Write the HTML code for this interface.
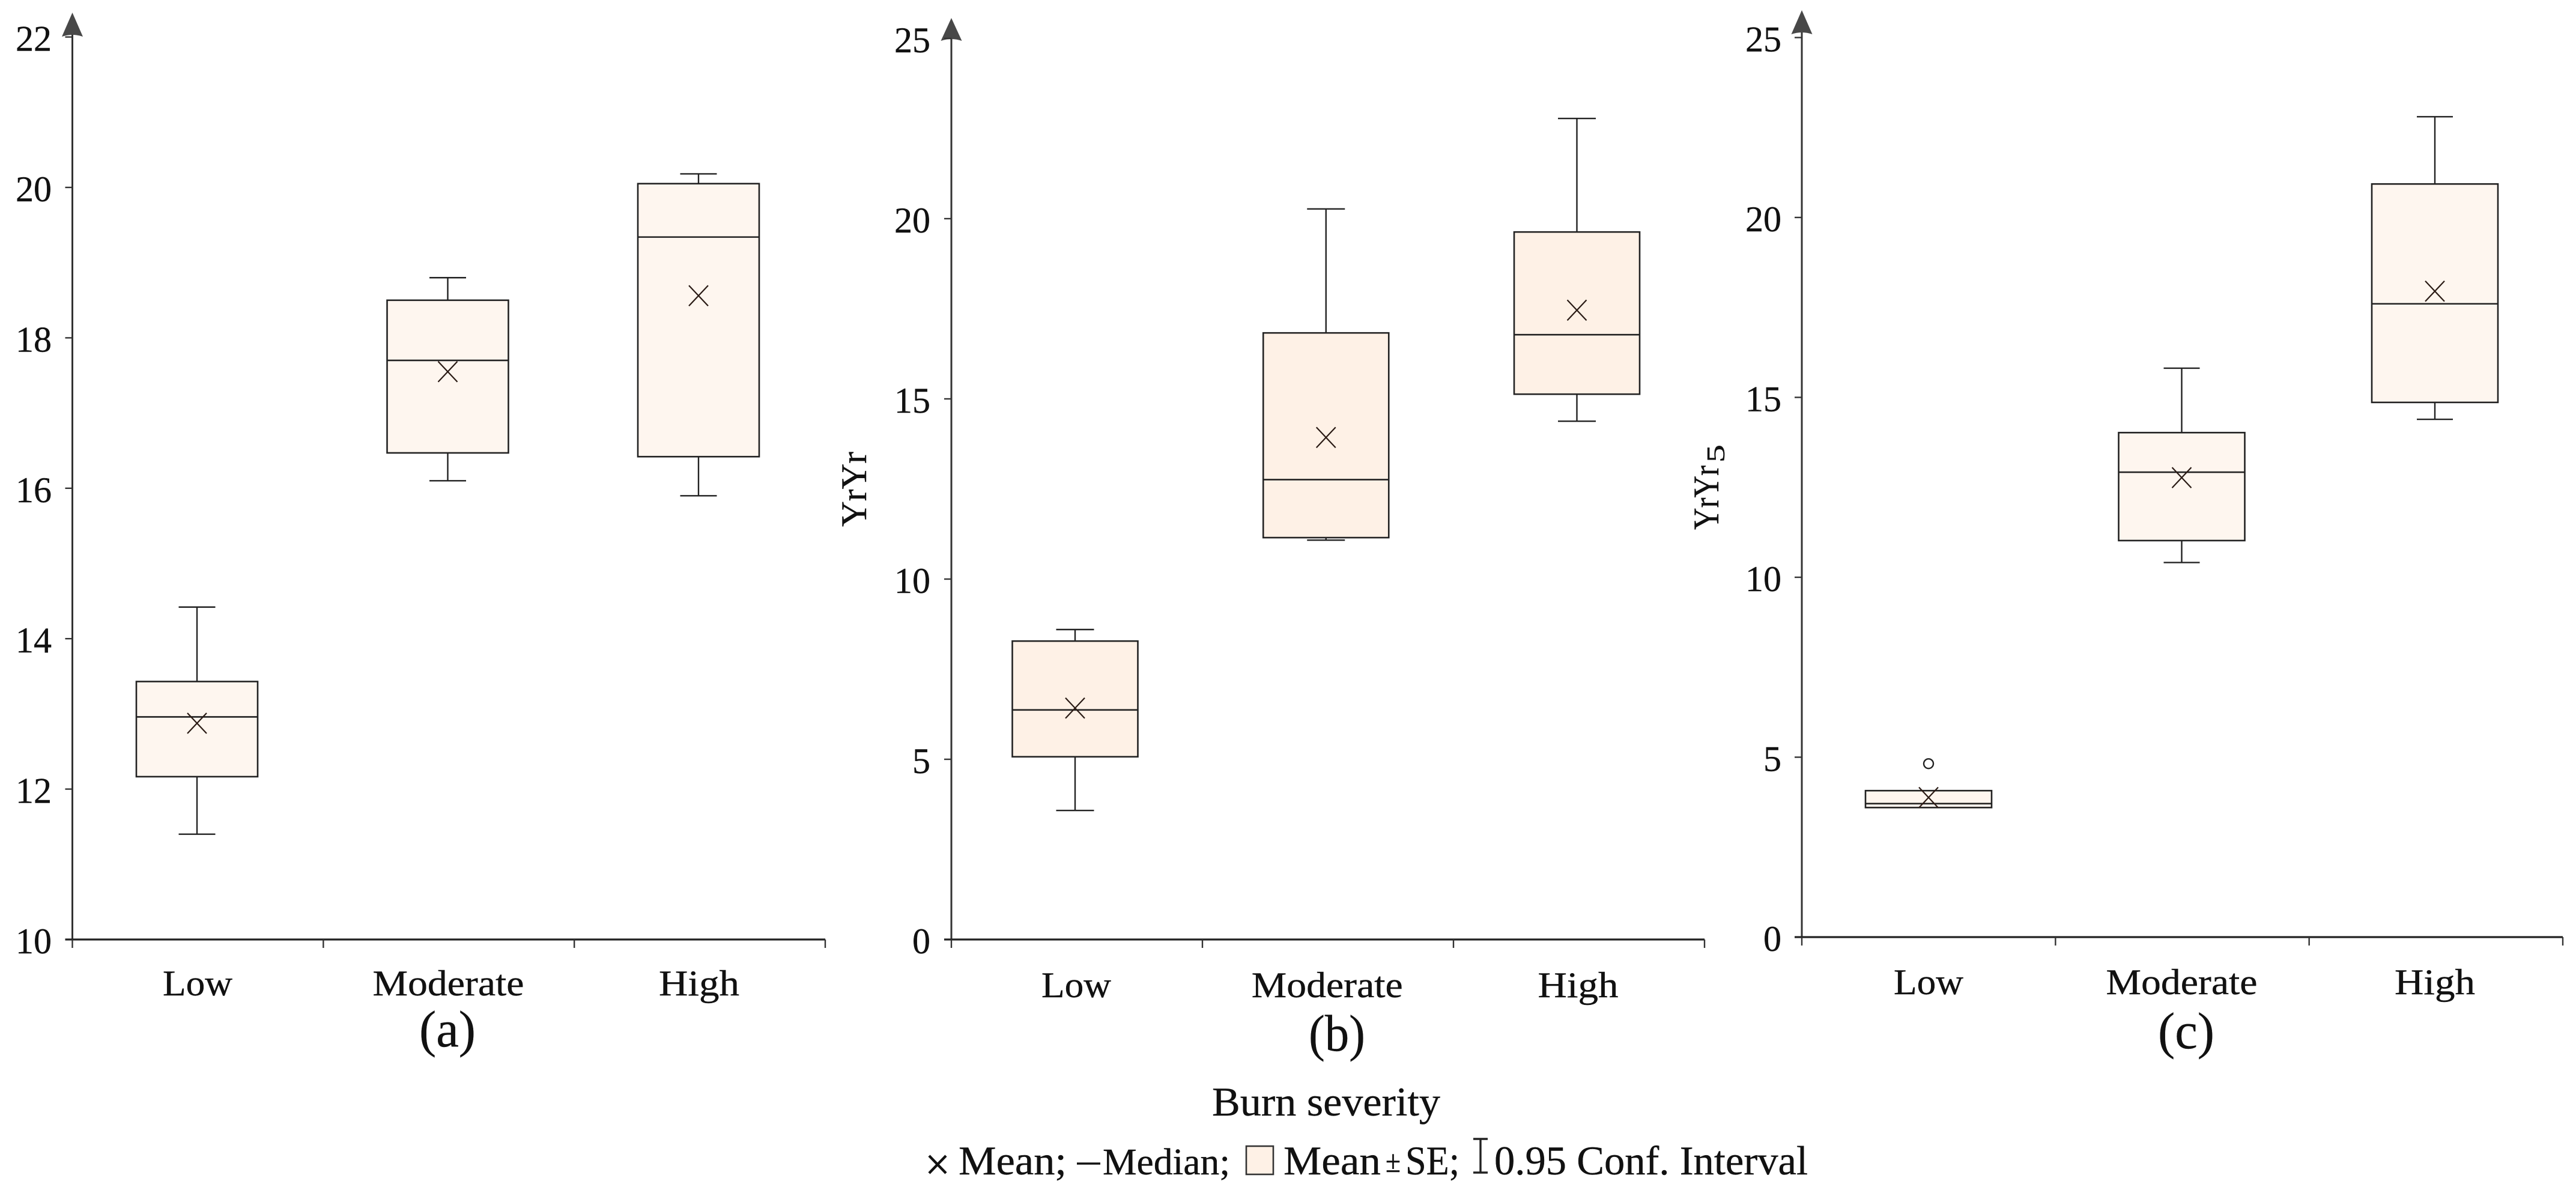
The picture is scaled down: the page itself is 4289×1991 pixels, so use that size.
<!DOCTYPE html>
<html lang="en">
<head>
<meta charset="utf-8">
<title>Burn severity box plots</title>
<style>
html,body{margin:0;padding:0;background:#fff;width:4289px;height:1991px;overflow:hidden}
svg{display:block}
text{font-family:"Liberation Serif",serif;fill:#111;stroke:#111;stroke-width:0.4px}
</style>
</head>
<body>
<svg id="chart" xmlns="http://www.w3.org/2000/svg" width="4289" height="1991" viewBox="0 0 4289 1991">
  <rect x="0" y="0" width="4289" height="1991" fill="#ffffff"/>
  <g id="panels"></g>

  <text x="2208" y="1857" font-size="68" text-anchor="middle" textLength="380" lengthAdjust="spacingAndGlyphs">Burn severity</text>

  <g>
    <g>
      <path d="M1547 1924 L1575 1953 M1575 1924 L1547 1953" stroke="#111" stroke-width="4.4" fill="none"/>
      <text x="1596" y="1955" font-size="68" textLength="180" lengthAdjust="spacingAndGlyphs">Mean;</text>
    </g>
    <g>
      <line x1="1793" y1="1937" x2="1832" y2="1937" stroke="#111" stroke-width="3.4"/>
      <text x="1836" y="1955" font-size="62" textLength="212" lengthAdjust="spacingAndGlyphs">Median;</text>
    </g>
    <g>
      <rect x="2075" y="1908" width="45" height="47" fill="#fef1e6" stroke="#333" stroke-width="2.6"/>
      <text x="2137" y="1955" font-size="68" textLength="162" lengthAdjust="spacingAndGlyphs">Mean</text>
      <text x="2307" y="1951" font-size="52" textLength="25" lengthAdjust="spacingAndGlyphs">±</text>
      <text x="2340" y="1955" font-size="68" textLength="90" lengthAdjust="spacingAndGlyphs">SE;</text>
    </g>
    <g>
      <path d="M2453 1896 H2477 M2465 1896 V1952 M2453 1952 H2477" stroke="#222" stroke-width="3.4" fill="none"/>
      <text x="2488" y="1955" font-size="68" textLength="522" lengthAdjust="spacingAndGlyphs">0.95 Conf. Interval</text>
    </g>
  </g>
</svg>

<script>
// ---- data ----
const categories = ['Low', 'Moderate', 'High'];

const panelATicks = [10, 12, 14, 16, 18, 20, 22];
const panelAWhiskerHigh = [14.42, 18.80, 20.18];
const panelAQ3 = [13.43, 18.50, 20.05];
const panelAMedian = [12.96, 17.70, 19.34];
const panelAMean = [12.875, 17.55, 18.56];
const panelAQ1 = [12.165, 16.47, 16.42];
const panelAWhiskerLow = [11.40, 16.10, 15.90];
const panelAOutlier = [null, null, null];

const panelBTicks = [0, 5, 10, 15, 20, 25];
const panelBWhiskerHigh = [8.60, 20.27, 22.78];
const panelBQ3 = [8.28, 16.83, 19.63];
const panelBMedian = [6.37, 12.76, 16.78];
const panelBMean = [6.42, 13.93, 17.46];
const panelBQ1 = [5.07, 11.15, 15.13];
const panelBWhiskerLow = [3.58, 11.08, 14.38];
const panelBOutlier = [null, null, null];

const panelCTicks = [0, 5, 10, 15, 20, 25];
const panelCWhiskerHigh = [null, 15.81, 22.80];
const panelCQ3 = [4.07, 14.02, 20.93];
const panelCMedian = [3.71, 12.92, 17.60];
const panelCMean = [3.88, 12.77, 17.95];
const panelCQ1 = [3.60, 11.02, 14.86];
const panelCWhiskerLow = [null, 10.41, 14.39];
const panelCOutlier = [4.82, null, null];

// ---- layout (not data) ----
const categoryLabelLength = { Low: 116, Moderate: 252, High: 134 };
const panels = [
  { id: 'a', ticks: panelATicks, hi: panelAWhiskerHigh, q3: panelAQ3, med: panelAMedian, mean: panelAMean, q1: panelAQ1, lo: panelAWhiskerLow, out: panelAOutlier,
    axisX: 120.5, axisEnd: 1374, y0: 1564, unit: 125.2, yMin: 10, arrowTip: 21, arrowBase: 60,
    first: 328, step: 417.5, boxW: 202, capW: 61, fill: '#fef6ef',
    catBase: 1657, catOffset: 1, panelLabelX: 745, panelLabelY: 1742, labelRight: 86 },
  { id: 'b', ticks: panelBTicks, hi: panelBWhiskerHigh, q3: panelBQ3, med: panelBMedian, mean: panelBMean, q1: panelBQ1, lo: panelBWhiskerLow, out: panelBOutlier,
    axisX: 1584, axisEnd: 2838, y0: 1564, unit: 60, yMin: 0, arrowTip: 30, arrowBase: 67,
    first: 1790, step: 417.75, boxW: 209, capW: 63, fill: '#fef1e6',
    catBase: 1660, catOffset: 2, panelLabelX: 2226, panelLabelY: 1749, labelRight: 1549 },
  { id: 'c', ticks: panelCTicks, hi: panelCWhiskerHigh, q3: panelCQ3, med: panelCMedian, mean: panelCMean, q1: panelCQ1, lo: panelCWhiskerLow, out: panelCOutlier,
    axisX: 3000, axisEnd: 4267, y0: 1560, unit: 59.9, yMin: 0, arrowTip: 17, arrowBase: 56,
    first: 3211, step: 421.5, boxW: 210, capW: 60, fill: '#fef6ef',
    catBase: 1655, catOffset: 0, panelLabelX: 3640, panelLabelY: 1745, labelRight: 2966 }
];

const NS = 'http://www.w3.org/2000/svg';
const STROKE = '#222222';

function make(parent, tag, attrs, txt) {
  const n = document.createElementNS(NS, tag);
  for (const k in attrs) n.setAttribute(k, attrs[k]);
  if (txt !== undefined) n.textContent = txt;
  parent.appendChild(n);
  return n;
}

function drawPanel(p) {
  const root = document.getElementById('panels');
  const yScale = v => p.y0 - (v - p.yMin) * p.unit;
  const xScale = i => p.first + i * p.step;

  const g = make(root, 'g', {});
  
  

  // y axis
  const yAxis = make(g, 'line', { x1: p.axisX, x2: p.axisX, y1: p.arrowBase - 6, y2: p.y0, stroke: '#333', 'stroke-width': 3 });
  
  

  const arrow = make(g, 'path', {
    d: 'M' + p.axisX + ' ' + p.arrowTip + ' L' + (p.axisX + 17.5) + ' ' + (p.arrowBase + 1) +
       ' Q' + p.axisX + ' ' + (p.arrowBase - 5) + ' ' + (p.axisX - 17.5) + ' ' + (p.arrowBase + 1) + ' Z',
    fill: '#484848'
  });
  
  

  // y ticks
  p.ticks.forEach(t => {
    const y = yScale(t);
    const tick = make(g, 'line', { x1: p.axisX - 12, x2: p.axisX, y1: y, y2: y, stroke: '#333', 'stroke-width': 2.4 });
    
    
    const lab = make(g, 'text', { x: p.labelRight, y: y + 23, 'font-size': 60, 'text-anchor': 'end' }, String(t));
    
    
  });

  // x axis
  const xAxis = make(g, 'line', { x1: p.axisX - 12, x2: p.axisEnd, y1: p.y0, y2: p.y0, stroke: '#222', 'stroke-width': 3.2 });
  
  

  for (let i = 0; i <= categories.length; i++) {
    const x = p.axisX + i * (p.axisEnd - p.axisX) / categories.length;
    const tick = make(g, 'line', { x1: x, x2: x, y1: p.y0, y2: p.y0 + 14, stroke: '#333', 'stroke-width': 2.4 });
    
    
  }

  // boxes
  categories.forEach((cat, i) => {
    const cx = xScale(i);
    const key = p.id + '-' + cat.toLowerCase();

    const cg = make(g, 'g', {});
    
    

    if (p.hi[i] !== null) {
      const wh = make(cg, 'path', {
        d: 'M' + cx + ' ' + yScale(p.q3[i]) + ' V' + yScale(p.hi[i]) + ' M' + (cx - p.capW / 2) + ' ' + yScale(p.hi[i]) + ' H' + (cx + p.capW / 2),
        stroke: STROKE, 'stroke-width': 2.4, fill: 'none'
      });
      
      
    }
    if (p.lo[i] !== null) {
      const wl = make(cg, 'path', {
        d: 'M' + cx + ' ' + yScale(p.q1[i]) + ' V' + yScale(p.lo[i]) + ' M' + (cx - p.capW / 2) + ' ' + yScale(p.lo[i]) + ' H' + (cx + p.capW / 2),
        stroke: STROKE, 'stroke-width': 2.4, fill: 'none'
      });
      
      
    }

    const box = make(cg, 'rect', {
      x: cx - p.boxW / 2, y: yScale(p.q3[i]), width: p.boxW, height: yScale(p.q1[i]) - yScale(p.q3[i]),
      fill: p.fill, stroke: STROKE, 'stroke-width': 2.6
    });
    
    

    const med = make(cg, 'line', {
      x1: cx - p.boxW / 2, x2: cx + p.boxW / 2, y1: yScale(p.med[i]), y2: yScale(p.med[i]),
      stroke: STROKE, 'stroke-width': 2.6
    });
    
    

    const my = yScale(p.mean[i]);
    const mean = make(cg, 'path', {
      d: 'M' + (cx - 16) + ' ' + (my - 17) + ' L' + (cx + 16) + ' ' + (my + 17) + ' M' + (cx + 16) + ' ' + (my - 17) + ' L' + (cx - 16) + ' ' + (my + 17),
      stroke: '#2a1a14', 'stroke-width': 2.2, fill: 'none'
    });
    
    

    if (p.out[i] !== null) {
      const o = make(cg, 'ellipse', { cx: cx, cy: yScale(p.out[i]), rx: 8, ry: 8, fill: '#fff', stroke: STROKE, 'stroke-width': 2.4 });
      
      
    }

    const lab = make(g, 'text', {
      x: cx + p.catOffset, y: p.catBase, 'font-size': 60, 'text-anchor': 'middle',
      textLength: categoryLabelLength[cat], lengthAdjust: 'spacingAndGlyphs'
    }, cat);
    
    
  });

  const pl = make(g, 'text', { x: p.panelLabelX, y: p.panelLabelY, 'font-size': 86, 'text-anchor': 'middle', textLength: 94, lengthAdjust: 'spacingAndGlyphs' }, '(' + p.id + ')');
  
  
}

panels.forEach(drawPanel);

// y-axis titles
const panelsRoot = document.getElementById('panels');

const titleB = make(panelsRoot, 'text', {
  transform: 'translate(1442 877) rotate(-90)', x: 0, y: 0, 'font-size': 60,
  textLength: 125, lengthAdjust: 'spacingAndGlyphs', stroke: '#111', 'stroke-width': 0.8
}, 'YrYr');



const titleC = make(panelsRoot, 'text', {
  transform: 'translate(2861 882) rotate(-90)', x: 0, y: 0, 'font-size': 60,
  textLength: 107, lengthAdjust: 'spacingAndGlyphs', stroke: '#111', 'stroke-width': 0.8
}, 'YrYr');



const titleCSub = make(panelsRoot, 'text', {
  transform: 'translate(2871 770) rotate(-90)', x: 0, y: 0, 'font-size': 42, textLength: 30, lengthAdjust: 'spacingAndGlyphs', fill: '#333', stroke: 'none'
}, '5');


</script>
</body>
</html>
